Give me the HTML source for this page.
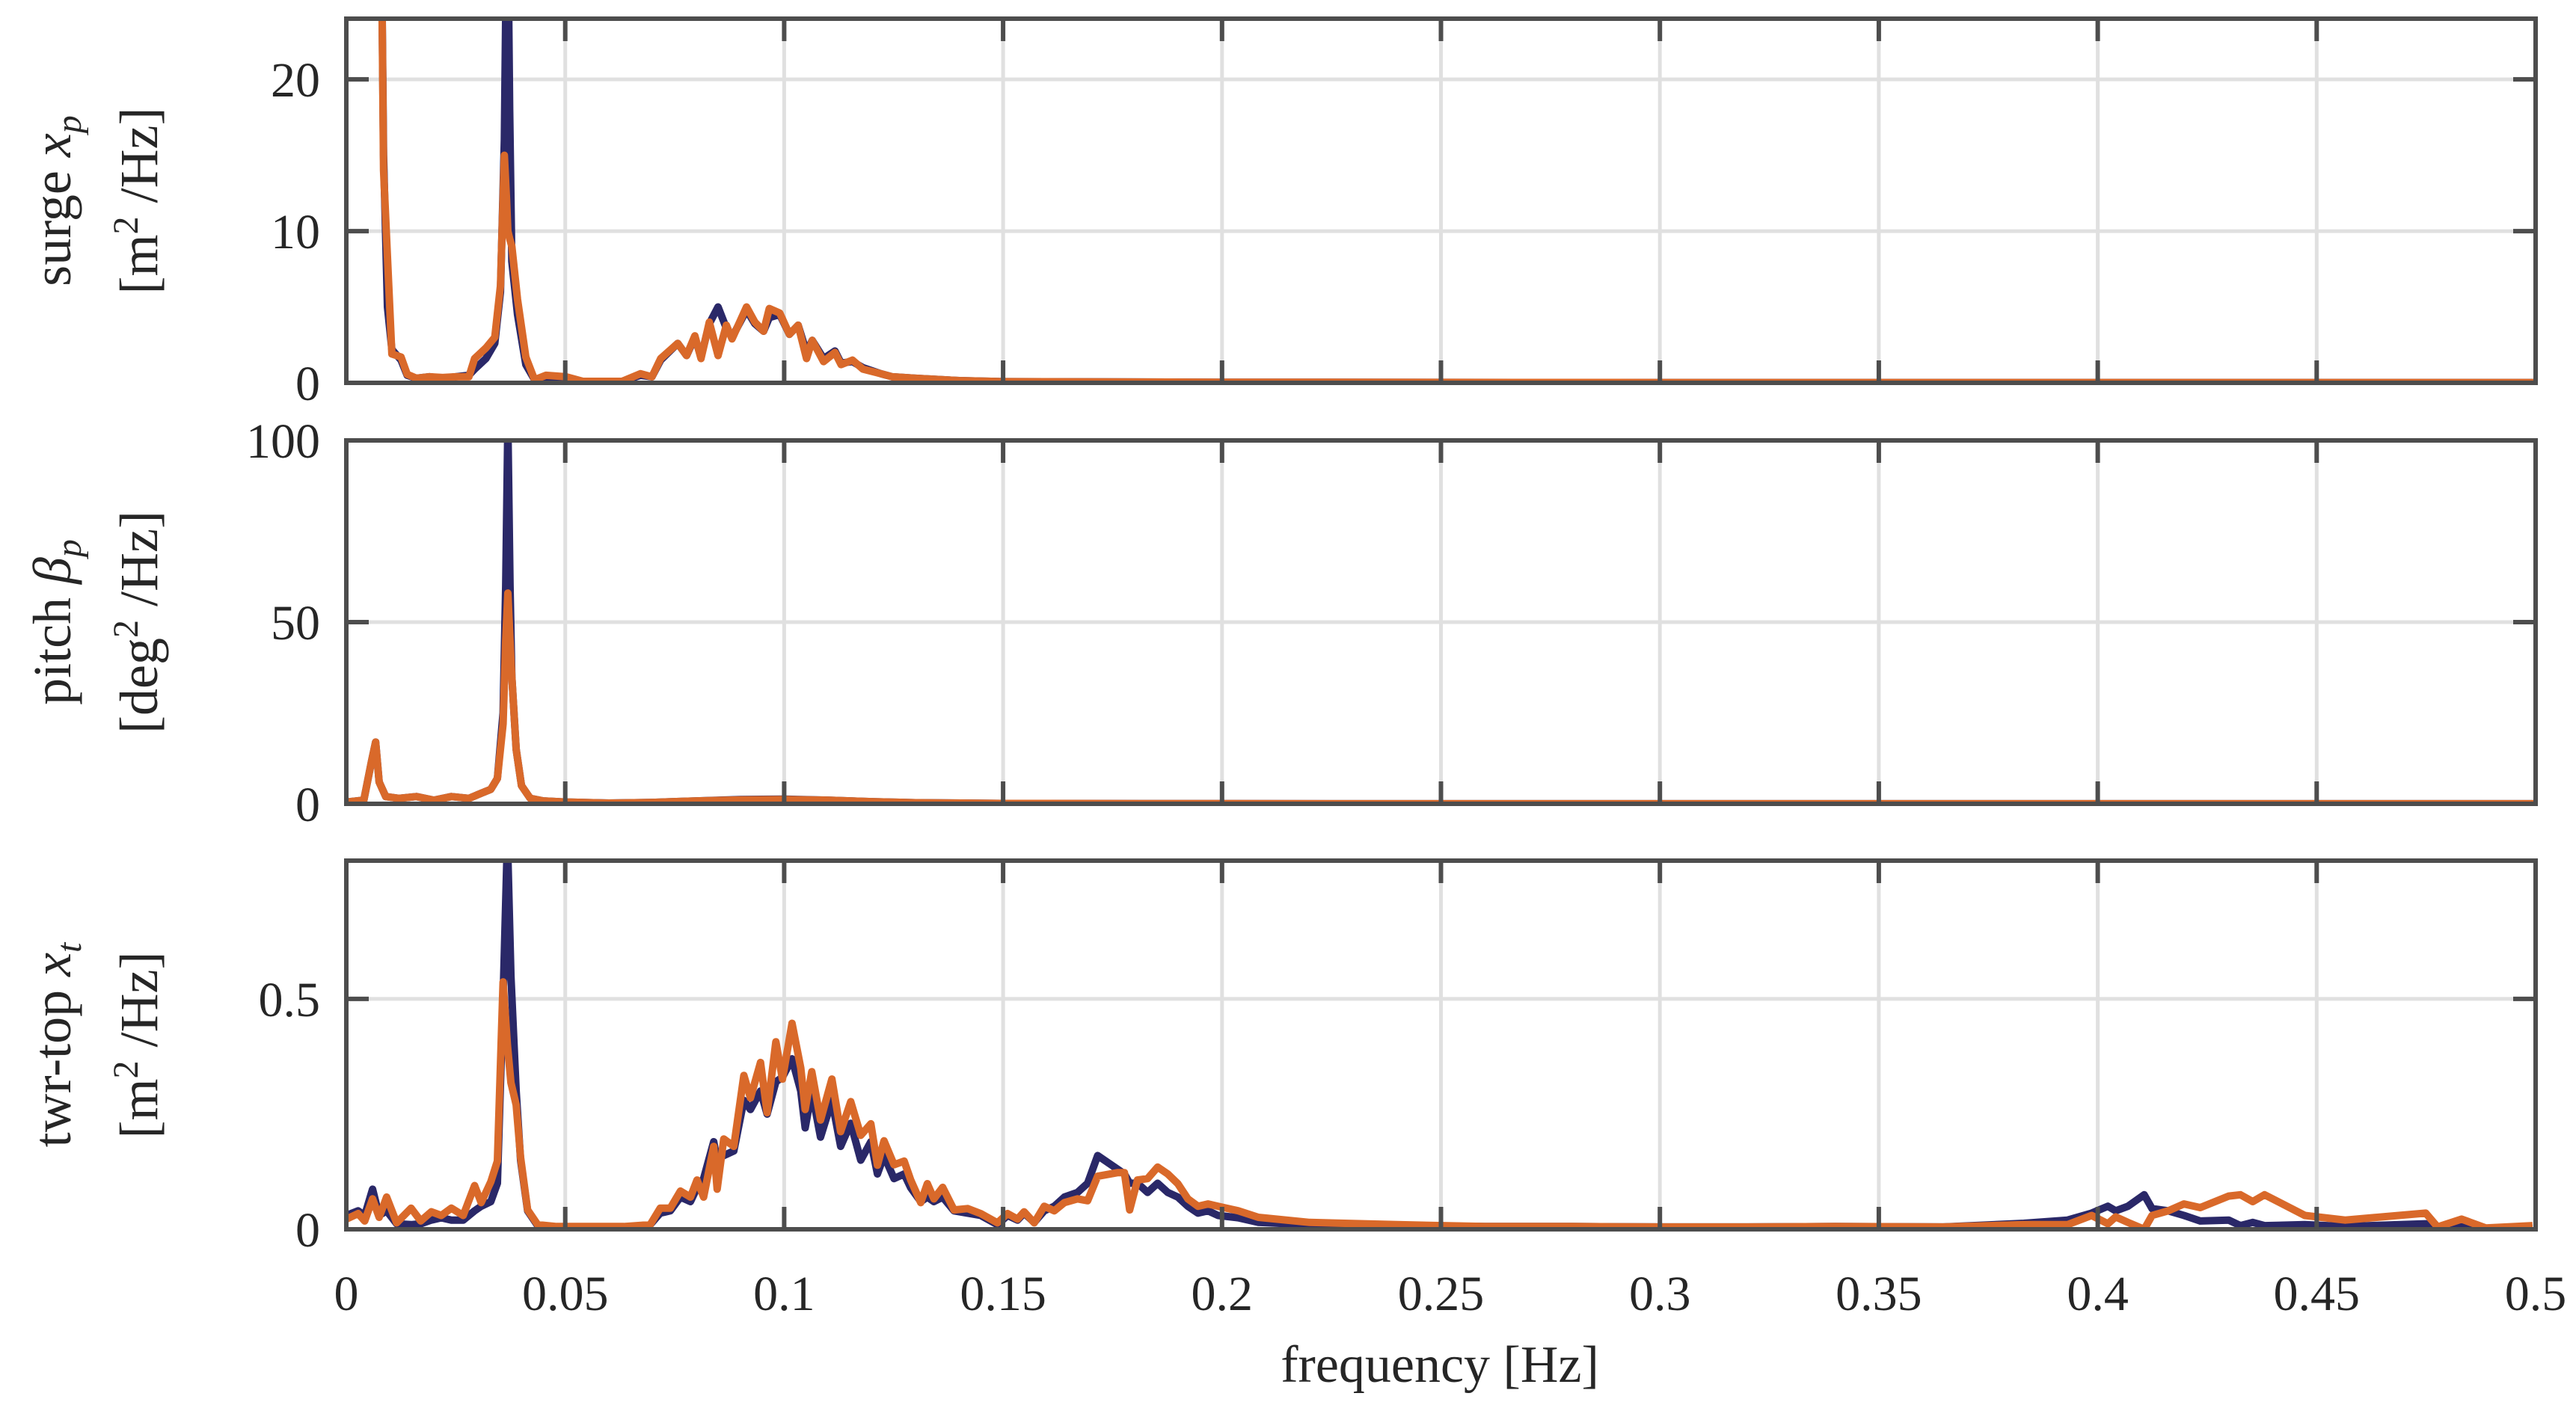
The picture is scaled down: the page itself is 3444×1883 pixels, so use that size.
<!DOCTYPE html>
<html><head><meta charset="utf-8"><style>
body{margin:0;background:#fff}
svg{display:block}
text{font-family:"Liberation Serif",serif;fill:#262626}
</style></head><body>
<svg id="chart" width="3444" height="1883" viewBox="0 0 3444 1883" xmlns="http://www.w3.org/2000/svg"></svg>
<script>
// ---- data ----
const xTicks = [0,0.05,0.1,0.15,0.2,0.25,0.3,0.35,0.4,0.45,0.5];
const xTickLabels = ["0","0.05","0.1","0.15","0.2","0.25","0.3","0.35","0.4","0.45","0.5"];
const surgeTicks = [0,10,20];
const pitchTicks = [0,50,100];
const towerTicks = [0,0.5];

const surgeF = [0.008,0.0085,0.0094,0.0104,0.0125,0.0139,0.016,0.019,0.022,0.025,0.028,0.0293,0.0319,0.0339,0.0352,0.0361,0.0366,0.0369,0.0373,0.0378,0.0391,0.041,0.043,0.0456,0.0502,0.054,0.063,0.0672,0.0698,0.0718,0.0757,0.0777,0.0796,0.081,0.0829,0.0849,0.0868,0.0881,0.0914,0.0933,0.0953,0.0966,0.099,0.1012,0.1032,0.1051,0.1064,0.109,0.1116,0.113,0.1156,0.118,0.1221,0.1247,0.13,0.14,0.15,0.2,0.3,0.4,0.5];
const surgeNavy = [30,15,5,2.2,1.5,0.5,0.3,0.4,0.3,0.4,0.5,0.9,1.6,2.6,6,16,30,30,18,8,4.5,1.2,0.2,0.3,0.3,0.1,0.1,0.5,0.4,1.5,2.6,1.8,3.0,1.7,3.9,5.0,3.6,3.0,4.8,3.9,3.4,4.3,4.5,3.2,3.8,2.0,2.8,1.6,2.1,1.3,1.4,1.0,0.6,0.4,0.3,0.15,0.08,0.04,0.02,0.02,0.02];
const surgeOrange = [30,14,8.3,1.9,1.7,0.56,0.3,0.4,0.35,0.4,0.4,1.6,2.3,3.0,6.4,15,12,10,9.5,9,5.5,1.7,0.2,0.5,0.4,0.1,0.1,0.6,0.4,1.6,2.6,1.8,3.1,1.6,4.0,1.8,3.8,2.9,5.0,4.0,3.4,4.9,4.6,3.2,3.8,1.6,2.8,1.4,2.0,1.2,1.5,0.9,0.6,0.4,0.3,0.15,0.08,0.04,0.02,0.02,0.02];

const pitchF = [0,0.004,0.0058,0.0067,0.0075,0.009,0.012,0.016,0.02,0.024,0.028,0.031,0.033,0.0345,0.0358,0.0364,0.0369,0.0374,0.0378,0.0388,0.04,0.042,0.045,0.05,0.06,0.07,0.08,0.09,0.1,0.11,0.12,0.13,0.15,0.2,0.3,0.4,0.5];
const pitchNavy = [0.5,1,12,17,6,2,1.5,2,1,2,1.5,3,4,7,25,60,105,60,35,15,5,1.5,0.8,0.5,0.2,0.4,0.8,1.2,1.3,1.0,0.6,0.3,0.1,0.05,0.02,0.02,0.02];
const pitchOrange = [0.5,1,12,17,6,2,1.5,2,1,2,1.5,3,4,7,22,45,58,45,35,15,5,1.5,0.8,0.5,0.2,0.4,0.8,1.1,1.2,1.0,0.6,0.3,0.1,0.05,0.02,0.02,0.02];

const towerF = [0,0.0027,0.0042,0.006,0.0075,0.0092,0.0115,0.0148,0.017,0.0194,0.0217,0.024,0.0267,0.0293,0.0308,0.033,0.0345,0.0358,0.0368,0.0376,0.0388,0.0398,0.0414,0.0437,0.048,0.0634,0.0694,0.0717,0.074,0.0763,0.0786,0.0801,0.0816,0.0839,0.0847,0.0862,0.0885,0.0908,0.0923,0.0946,0.0961,0.0981,0.0996,0.1018,0.1038,0.1048,0.1063,0.1083,0.1109,0.1129,0.1152,0.1175,0.1198,0.1213,0.1228,0.1251,0.1274,0.1289,0.1312,0.1327,0.1342,0.1362,0.1388,0.1419,0.1449,0.1487,0.151,0.1533,0.1548,0.1571,0.1594,0.1617,0.164,0.167,0.1693,0.1716,0.1762,0.1777,0.1789,0.1807,0.183,0.1853,0.1876,0.1899,0.1922,0.1945,0.1968,0.1991,0.2037,0.2083,0.22,0.24,0.26,0.28,0.3,0.32,0.34,0.3647,0.3831,0.3931,0.3986,0.4023,0.4041,0.4069,0.4106,0.4124,0.4161,0.4197,0.4234,0.4299,0.4326,0.4354,0.4381,0.4473,0.4565,0.4749,0.4776,0.4831,0.4886,0.4993];
const towerNavy = [0.03,0.04,0.03,0.087,0.03,0.04,0.012,0.01,0.012,0.02,0.025,0.02,0.02,0.04,0.05,0.06,0.1,0.5,0.85,0.55,0.3,0.15,0.04,0.008,0.004,0.004,0.01,0.035,0.04,0.07,0.06,0.09,0.11,0.19,0.15,0.16,0.17,0.28,0.26,0.3,0.25,0.32,0.33,0.37,0.3,0.22,0.3,0.2,0.28,0.18,0.23,0.15,0.19,0.12,0.16,0.11,0.12,0.09,0.06,0.07,0.06,0.07,0.04,0.035,0.03,0.01,0.03,0.02,0.035,0.015,0.04,0.05,0.07,0.08,0.1,0.16,0.13,0.12,0.1,0.1,0.08,0.1,0.08,0.07,0.05,0.035,0.04,0.03,0.025,0.015,0.01,0.008,0.006,0.006,0.005,0.005,0.006,0.005,0.013,0.02,0.035,0.05,0.04,0.05,0.075,0.045,0.04,0.03,0.018,0.02,0.008,0.015,0.008,0.01,0.006,0.012,0.005,0.008,0.001,0.002];
const towerOrange = [0.022,0.034,0.018,0.066,0.026,0.07,0.014,0.046,0.018,0.038,0.03,0.046,0.03,0.095,0.058,0.103,0.148,0.537,0.4,0.318,0.27,0.156,0.042,0.01,0.006,0.006,0.01,0.046,0.046,0.083,0.07,0.107,0.07,0.18,0.087,0.196,0.18,0.334,0.285,0.362,0.253,0.407,0.326,0.447,0.35,0.26,0.342,0.237,0.326,0.212,0.277,0.204,0.229,0.139,0.192,0.14,0.148,0.107,0.058,0.099,0.066,0.091,0.042,0.045,0.034,0.014,0.034,0.022,0.038,0.014,0.05,0.04,0.058,0.066,0.062,0.115,0.123,0.123,0.042,0.107,0.11,0.135,0.12,0.099,0.066,0.05,0.055,0.05,0.04,0.026,0.015,0.01,0.006,0.006,0.005,0.005,0.006,0.005,0.01,0.01,0.03,0.012,0.027,0.015,0.0,0.03,0.04,0.055,0.047,0.072,0.075,0.06,0.075,0.03,0.02,0.035,0.005,0.022,0.003,0.008];

// ---- layout ----
const NS='http://www.w3.org/2000/svg';
const svg=document.getElementById('chart');
const X0=463, X1=3390;
function xs(f){return X0+(f/0.5)*(X1-X0);}
function mk(tag,attrs,parent){const e=document.createElementNS(NS,tag);for(const k in attrs)e.setAttribute(k,attrs[k]);(parent||svg).appendChild(e);return e;}

const panels=[
 {name:'surge',top:25,bot:512,ymax:24,ticks:surgeTicks,f:surgeF,a:surgeNavy,b:surgeOrange,l1:'surge <tspan font-style="italic">x</tspan><tspan font-style="italic" font-size="48" dy="14">p</tspan>',l2:'[m<tspan font-size="48" dy="-26">2</tspan><tspan dy="26"> /Hz]</tspan>'},
 {name:'pitch',top:589,bot:1075,ymax:100,ticks:pitchTicks,f:pitchF,a:pitchNavy,b:pitchOrange,l1:'pitch <tspan font-style="italic">β</tspan><tspan font-style="italic" font-size="48" dy="14">p</tspan>',l2:'[deg<tspan font-size="48" dy="-26">2</tspan><tspan dy="26"> /Hz]</tspan>'},
 {name:'tower',top:1151,bot:1644,ymax:0.8,ticks:towerTicks,f:towerF,a:towerNavy,b:towerOrange,l1:'twr-top <tspan font-style="italic">x</tspan><tspan font-style="italic" font-size="48" dy="14">t</tspan>',l2:'[m<tspan font-size="48" dy="-26">2</tspan><tspan dy="26"> /Hz]</tspan>'}
];

panels.forEach((p,pi)=>{
 const g=mk('g',{});
 
 
 const ys=v=>p.bot-(v/p.ymax)*(p.bot-p.top);
 xTicks.forEach(t=>{if(t>0&&t<0.5){const l=mk('line',{x1:xs(t),x2:xs(t),y1:p.top,y2:p.bot,stroke:'#e0e0e0','stroke-width':5},g);
   
   }});
 p.ticks.forEach(t=>{if(t>0&&t<p.ymax){const l=mk('line',{x1:X0,x2:X1,y1:ys(t),y2:ys(t),stroke:'#e0e0e0','stroke-width':5},g);
   
   }});
 const cp=mk('clipPath',{id:'clip'+pi},g);
 mk('rect',{x:X0,y:p.top,width:X1-X0,height:p.bot-p.top},cp);
 [[p.a,'#2a2868','navy'],[p.b,'#d9692a','orange']].forEach(([vals,col,nm])=>{
   const pts=p.f.map((f,i)=>xs(f).toFixed(1)+','+ys(vals[i]).toFixed(1)).join(' ');
   const pl=mk('polyline',{points:pts,fill:'none',stroke:col,'stroke-width':10,'stroke-linejoin':'round','clip-path':'url(#clip'+pi+')'},g);
   
   
 });
 const fr=mk('rect',{x:X0,y:p.top,width:X1-X0,height:p.bot-p.top,fill:'none',stroke:'#4d4d4d','stroke-width':6},g);
 
 
 xTicks.forEach(t=>{
   mk('line',{x1:xs(t),x2:xs(t),y1:p.bot,y2:p.bot-30,stroke:'#4d4d4d','stroke-width':6},g);
   mk('line',{x1:xs(t),x2:xs(t),y1:p.top,y2:p.top+30,stroke:'#4d4d4d','stroke-width':6},g);
 });
 p.ticks.forEach(t=>{
   mk('line',{x1:X0,x2:X0+30,y1:ys(t),y2:ys(t),stroke:'#4d4d4d','stroke-width':6},g);
   mk('line',{x1:X1,x2:X1-30,y1:ys(t),y2:ys(t),stroke:'#4d4d4d','stroke-width':6},g);
   const tx=mk('text',{x:428,y:ys(t)+23,'text-anchor':'end','font-size':66},g);
   tx.textContent=String(t);
   
   
 });
 const cy=(p.top+p.bot)/2;
 const t1=mk('text',{x:0,y:0,'text-anchor':'middle','font-size':72,transform:`translate(94,${cy}) rotate(-90)`},g);
 t1.innerHTML=p.l1;
 
 
 const t2=mk('text',{x:0,y:0,'text-anchor':'middle','font-size':72,transform:`translate(210,${cy}) rotate(-90)`},g);
 t2.innerHTML=p.l2;
 
 
});

xTicks.forEach((t,i)=>{
 const tx=mk('text',{x:xs(t),y:1752,'text-anchor':'middle','font-size':66});
 tx.textContent=xTickLabels[i];
 
 
});
const xl=mk('text',{x:1925,y:1848,'text-anchor':'middle','font-size':70});
xl.textContent='frequency [Hz]';


</script>
</body></html>
